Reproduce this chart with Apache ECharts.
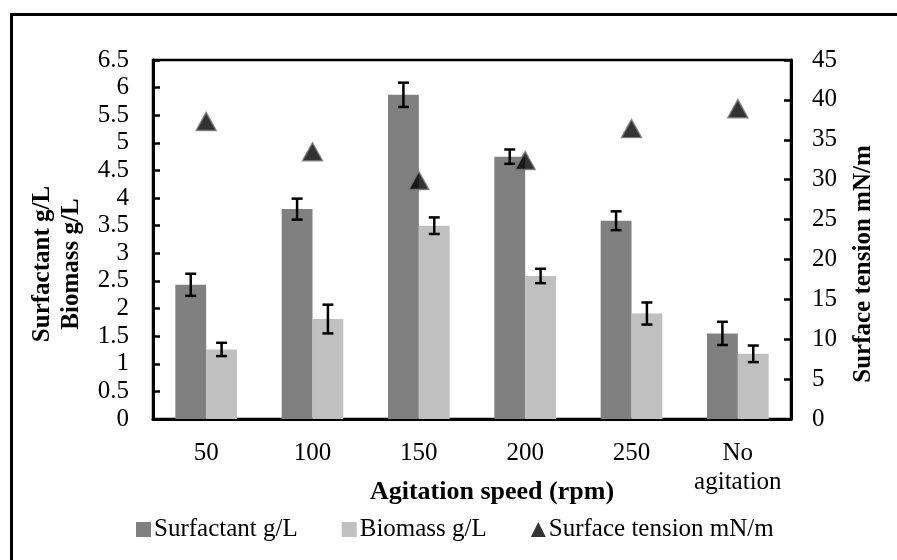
<!DOCTYPE html>
<html>
<head>
<meta charset="utf-8">
<script src="https://cdn.jsdelivr.net/npm/echarts@6/dist/echarts.min.js"></script>
<style>html,body{margin:0;padding:0;background:#fff;}#c{width:897px;height:560px;}</style>
</head>
<body>
<div id="c"></div>
<script>
const categories = ['50', '100', '150', '200', '250', 'No\nagitation'];
const surfactant = [2.43, 3.80, 5.87, 4.75, 3.59, 1.55];
const surfactantErr = [0.20, 0.19, 0.22, 0.13, 0.17, 0.21];
const biomass = [1.26, 1.81, 3.50, 2.59, 1.91, 1.18];
const biomassErr = [0.12, 0.26, 0.15, 0.13, 0.20, 0.15];
const surfaceTension = [37.3, 33.5, 29.9, 32.4, 36.4, 38.9];

const FONT = 'Liberation Serif';
const errData = [];
surfactant.forEach((v, i) => errData.push([i, v, surfactantErr[i], 0]));
biomass.forEach((v, i) => errData.push([i, v, biomassErr[i], 1]));

const chart = echarts.init(document.getElementById('c'), null, {renderer: 'canvas'});
chart.setOption({
  animation: false,
  backgroundColor: '#fff',
  textStyle: {fontFamily: FONT, color: '#000'},
  grid: {left: 153, top: 60, right: 106, bottom: 141, show: true, borderColor: '#000', borderWidth: 2.5, containLabel: false},
  xAxis: {
    type: 'category', data: categories,
    axisLine: {lineStyle: {color: '#000', width: 3}},
    axisTick: {show: false},
    axisLabel: {interval: 0, fontFamily: FONT, fontSize: 25, color: '#000', margin: 20, lineHeight: 29}
  },
  yAxis: [{
    type: 'value', min: 0, max: 6.5, interval: 0.5,
    axisLine: {show: true, lineStyle: {color: '#000', width: 3}},
    axisTick: {show: true, inside: true, length: 7, lineStyle: {color: '#000', width: 2.5}},
    splitLine: {show: false},
    axisLabel: {fontFamily: FONT, fontSize: 25, color: '#000', margin: 24}
  }, {
    type: 'value', min: 0, max: 45, interval: 5, position: 'right',
    axisLine: {show: true, lineStyle: {color: '#000', width: 3}},
    axisTick: {show: true, inside: true, length: 7, lineStyle: {color: '#000', width: 2.5}},
    splitLine: {show: false},
    axisLabel: {fontFamily: FONT, fontSize: 25, color: '#000', margin: 21}
  }],
  legend: {
    left: 131, top: 512,
    itemWidth: 15, itemHeight: 15, itemGap: 44,
    textStyle: {fontFamily: FONT, fontSize: 25, color: '#000', padding: [0, 0, 0, -2]},
    data: [
      {name: 'Surfactant g/L', icon: 'rect'},
      {name: 'Biomass g/L', icon: 'rect'},
      {name: 'Surface tension mN/m', icon: 'triangle', itemStyle: {color: '#000', borderWidth: 0}}
    ]
  },
  series: [
    {name: 'Surfactant g/L', type: 'bar', data: surfactant, barGap: '0%', barCategoryGap: '42%', itemStyle: {color: '#808080'}},
    {name: 'Biomass g/L', type: 'bar', data: biomass, barGap: '0%', barCategoryGap: '42%', itemStyle: {color: '#c0c0c0'}},
    {
      name: 'err', type: 'custom', data: errData, z: 5,
      encode: {x: 0, y: 1},
      renderItem: function (params, api) {
        const idx = api.value(0), v = api.value(1), e = api.value(2), s = api.value(3);
        const band = api.size([1, 0])[0];
        const off = (s === 0 ? -1 : 1) * band * 0.145;
        const hi = api.coord([idx, v + e]);
        const lo = api.coord([idx, v - e]);
        const x = hi[0] + off;
        const cap = 5.5;
        const st = {stroke: '#000', lineWidth: 2.5};
        return {type: 'group', children: [
          {type: 'line', shape: {x1: x, y1: hi[1], x2: x, y2: lo[1]}, style: st},
          {type: 'line', shape: {x1: x - cap, y1: hi[1], x2: x + cap, y2: hi[1]}, style: st},
          {type: 'line', shape: {x1: x - cap, y1: lo[1], x2: x + cap, y2: lo[1]}, style: st}
        ]};
      }
    },
    {name: 'Surface tension mN/m', type: 'scatter', yAxisIndex: 1, data: surfaceTension, symbol: 'triangle', symbolSize: [20, 18], z: 6,
      itemStyle: {color: '#000', borderColor: '#777', borderWidth: 1.5}}
  ],
  graphic: [
    {type: 'line', shape: {x1: 11.5, y1: 14.5, x2: 11.5, y2: 600}, style: {stroke: '#000', lineWidth: 3}, silent: true},
    {type: 'line', shape: {x1: 10, y1: 14.5, x2: 900, y2: 14.5}, style: {stroke: '#000', lineWidth: 3}, silent: true},
    {type: 'text', x: 43, y: 264, rotation: Math.PI / 2, style: {text: 'Surfactant g/L', font: 'bold 25px "Liberation Serif"', fill: '#000', textAlign: 'center', textVerticalAlign: 'middle'}},
    {type: 'text', x: 72, y: 264, rotation: Math.PI / 2, style: {text: 'Biomass g/L', font: 'bold 25px "Liberation Serif"', fill: '#000', textAlign: 'center', textVerticalAlign: 'middle'}},
    {type: 'text', x: 864, y: 264, rotation: Math.PI / 2, style: {text: 'Surface tension mN/m', font: 'bold 25px "Liberation Serif"', fill: '#000', textAlign: 'center', textVerticalAlign: 'middle'}},
    {type: 'text', x: 492, y: 492, style: {text: 'Agitation speed (rpm)', font: 'bold 26px "Liberation Serif"', fill: '#000', textAlign: 'center', textVerticalAlign: 'middle'}}
  ]
});
</script>
</body>
</html>
